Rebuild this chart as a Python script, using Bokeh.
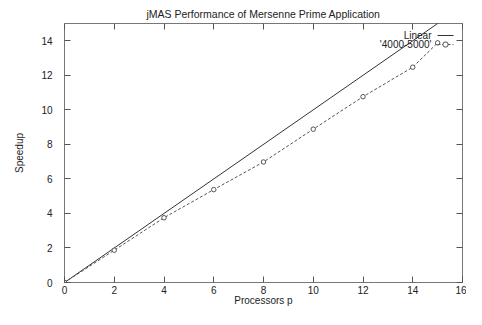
from bokeh.plotting import figure
from bokeh.models import (Range1d, LinearAxis, FixedTicker, Label, Arrow, BoxAnnotation,
                          CustomLabelingPolicy)
from bokeh.embed import file_html
from bokeh.resources import INLINE

# ---- data ----
x_ticks = [0, 2, 4, 6, 8, 10, 12, 14, 16]
y_ticks = [0, 2, 4, 6, 8, 10, 12, 14]
linear_x = [0, 16]
linear_y = [0, 16]
procs = [0, 2, 4, 6, 8, 10, 12, 14, 15]
speedup = [0, 1.87, 3.75, 5.38, 6.98, 8.88, 10.76, 12.47, 13.88]
series_names = ["Linear", "'4000-5000'"]

FONT = "Liberation Sans"
TXT = "#222222"
LIN_C = "#333333"
DAT_C = "#555555"
FW, FH = 398, 259

p = figure(frame_width=FW, frame_height=FH, output_backend="svg", toolbar_location=None,
           x_range=Range1d(0, 16), y_range=Range1d(0, 15),
           min_border_left=64, min_border_right=4, min_border_top=23, min_border_bottom=27,
           title="jMAS Performance of Mersenne Prime Application")
p.title.text_font = FONT
p.title.text_font_size = "10.5px"
p.title.text_font_style = "normal"
p.title.text_color = TXT
p.title.align = "center"
p.title.standoff = 0
p.xgrid.visible = False
p.ygrid.visible = False
p.outline_line_color = "#777777"
p.outline_line_width = 1
p.background_fill_color = "white"
p.border_fill_color = "white"

hide_all = CustomLabelingPolicy(code="""
for (const i of indices) indices.unset(i)
return indices
""")

def style_axis(ax, ticks, labels=True):
    ax.ticker = FixedTicker(ticks=ticks)
    ax.axis_line_color = None
    ax.major_tick_in = 6
    ax.major_tick_out = 0
    ax.major_tick_line_color = "#555555"
    ax.minor_tick_line_color = None
    ax.major_label_text_font = FONT
    ax.major_label_text_color = TXT
    ax.axis_label_text_font = FONT
    ax.axis_label_text_font_size = "10px"
    ax.axis_label_text_font_style = "normal"
    ax.axis_label_text_color = TXT
    if labels:
        ax.major_label_text_font_size = "10px"
    else:
        ax.major_label_text_font_size = "1px"
        ax.major_label_standoff = 0
        ax.major_label_policy = hide_all

xa = p.xaxis[0]
style_axis(xa, x_ticks)
xa.major_label_standoff = 3
xa.axis_label = "Processors p"
xa.axis_label_standoff = -2

ya = p.yaxis[0]
style_axis(ya, y_ticks)
ya.major_label_standoff = 12
ya.axis_label = "Speedup"
ya.axis_label_standoff = 13

top = LinearAxis()
style_axis(top, x_ticks, labels=False)
p.add_layout(top, "above")
right = LinearAxis()
style_axis(right, y_ticks, labels=False)
p.add_layout(right, "right")

p.line(linear_x, linear_y, line_color=LIN_C, line_width=1)
p.line(procs, speedup, line_color=DAT_C, line_width=1, line_dash="3 2")
p.scatter(procs, speedup, marker="circle", size=4.5, fill_color="white",
          line_color=DAT_C, line_width=1)

# ---- key (gnuplot style: text, then sample) in screen units of the frame ----
row_y = [FH - 12, FH - 21]
text_x = FW - 31
s0, s1 = FW - 25, FW - 9
for name, yy in zip(series_names, row_y):
    p.add_layout(Label(x=text_x, y=yy, x_units="screen", y_units="screen", text=name,
                       text_align="right", text_baseline="middle",
                       text_font=FONT, text_font_size="10px", text_color=TXT))
p.add_layout(Arrow(x_start=s0, y_start=row_y[0], x_end=s1, y_end=row_y[0],
                   start_units="screen", end_units="screen", start=None, end=None,
                   line_color=LIN_C, line_width=1))
p.add_layout(Arrow(x_start=s0, y_start=row_y[1], x_end=s1, y_end=row_y[1],
                   start_units="screen", end_units="screen", start=None, end=None,
                   line_color=DAT_C, line_width=1, line_dash="3 2"))
mc = (s0 + s1) / 2
p.add_layout(BoxAnnotation(left=mc - 2.5, right=mc + 2.5,
                           bottom=row_y[1] - 2.5, top=row_y[1] + 2.5,
                           left_units="screen", right_units="screen",
                           bottom_units="screen", top_units="screen",
                           border_radius=2, fill_color="white", fill_alpha=1,
                           line_color=DAT_C, line_width=1, line_alpha=1))

open("out.html", "w").write(file_html(p, INLINE))
